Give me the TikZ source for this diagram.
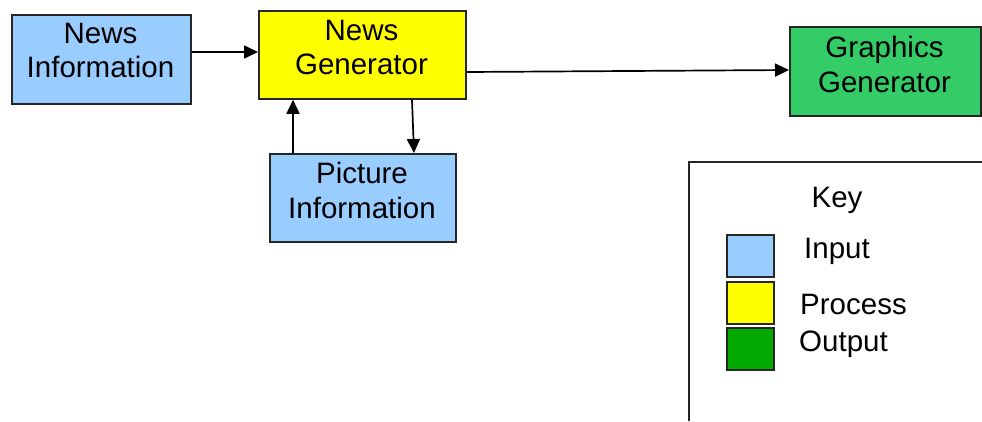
\documentclass[tikz,border=0pt]{standalone}
\usepackage{fontspec}
\setmainfont{Liberation Sans}
\usetikzlibrary{arrows.meta}
\definecolor{inblue}{HTML}{99CCFF}
\definecolor{procyellow}{HTML}{FFFF00}
\definecolor{outgreen}{HTML}{33CC66}
\definecolor{keygreen}{HTML}{00AA00}
\begin{document}
\begin{tikzpicture}[x=1pt,y=-1pt,
  box/.style={draw=black!85,line width=1.8pt,inner sep=0pt,anchor=north west},
  lbl/.style={inner sep=0pt,anchor=north,align=center,font=\fontsize{29.5}{34.5}\selectfont},
  keylbl/.style={inner sep=0pt,anchor=base west,font=\fontsize{29.5}{34.5}\selectfont},
  conn/.style={line width=1.7pt,-{Triangle[length=14pt,width=13pt]}}]
\useasboundingbox (0,0) rectangle (982,421);
% boxes
\node[box,fill=inblue,minimum width=179pt,minimum height=89pt] (ni) at (11,14) {};
\node[box,fill=procyellow,minimum width=207pt,minimum height=88pt] (ng) at (258,10) {};
\node[box,fill=inblue,minimum width=186pt,minimum height=88pt] (pi) at (269,153) {};
\node[box,fill=outgreen,minimum width=191pt,minimum height=89pt] (gg) at (789,26) {};
% texts
\node[lbl] (tni) at (100.5,23) {News\\Information};
\node[lbl] (tng) at (361.5,20) {News\\Generator};
\node[lbl] (tpi) at (362,162) {Picture\\Information};
\node[lbl] (tgg) at (884.5,36) {Graphics\\Generator};
% connectors
\coordinate (a1) at (190,52);
\draw[conn] (ni.east |- a1) -- (ng.west |- a1);
\coordinate (b1) at (465,72);
\coordinate (b2) at (789,70);
\draw[conn] (ng.east |- b1) -- (gg.west |- b2);
\coordinate (c1) at (293,153);
\draw[conn] (pi.north -| c1) -- (ng.south -| c1);
\coordinate (d1) at (412,98);
\coordinate (d2) at (414,153);
\draw[conn] (ng.south -| d1) -- (pi.north -| d2);
% key
\draw[line width=1.8pt,black!85] (689,421) -- (689,162) -- (982,162);
\node[inner sep=0pt,anchor=base,font=\fontsize{29.5}{34.5}\selectfont] (key) at (837,207) {Key};
\node[box,fill=inblue,minimum width=47pt,minimum height=42pt] (s1) at (726,234) {};
\node[box,fill=procyellow,minimum width=47pt,minimum height=42pt] (s2) at (726,281) {};
\node[box,fill=keygreen,minimum width=47pt,minimum height=42pt] (s3) at (726,327) {};
\node[keylbl] (k1) at (804,258) {Input};
\node[keylbl] (k2) at (800,314) {Process};
\node[keylbl] (k3) at (799,351) {Output};
\end{tikzpicture}
\end{document}
